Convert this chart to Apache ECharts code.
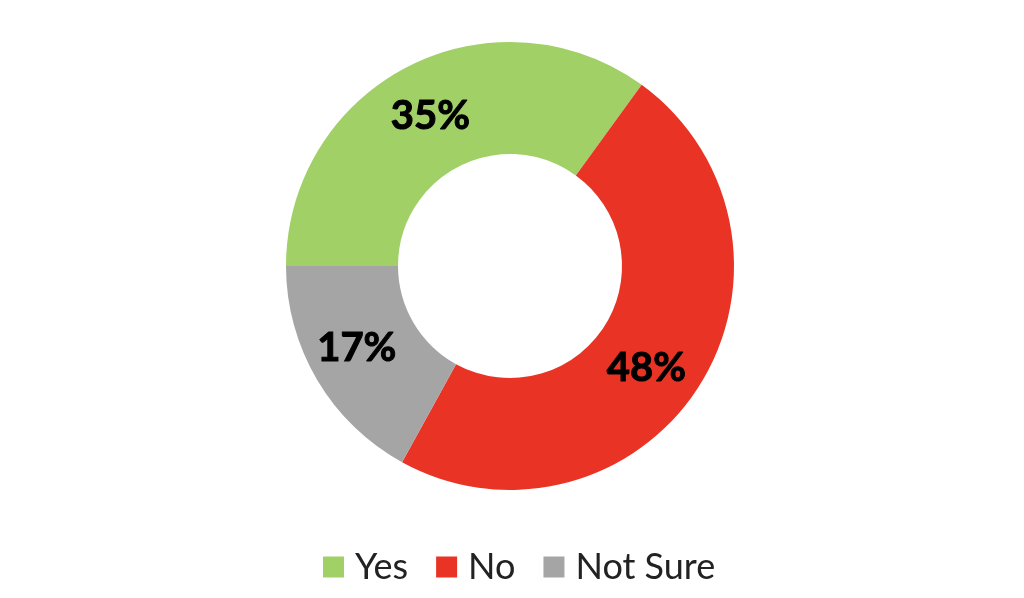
<!DOCTYPE html>
<html>
<head>
<meta charset="utf-8">
<script src="https://cdn.jsdelivr.net/npm/echarts@6/dist/echarts.min.js"></script>
<style>
html,body{margin:0;padding:0;background:#fff;}
#chart{width:1024px;height:598px;}
</style>
</head>
<body>
<div id="chart"></div>
<script>
const categories = ['Yes', 'No', 'Not Sure'];
const values = [35, 48, 17];
const colors = ['#A0D066', '#E93425', '#A5A5A5'];

const labelOffsets = [[-2, 2], [-8, 10], [-6, -5]];

const chart = echarts.init(document.getElementById('chart'), null, {renderer: 'canvas'});
chart.setOption({
  animation: false,
  backgroundColor: '#ffffff',
  legend: {
    data: categories,
    top: 544,
    left: 318,
    itemWidth: 21,
    itemHeight: 21,
    itemGap: 28,
    icon: 'rect',
    textStyle: {
      fontFamily: 'Lato',
      fontSize: 36,
      color: '#222222',
      padding: [0, 0, 0, 6]
    }
  },
  series: [{
    type: 'pie',
    center: [510, 266],
    radius: [112, 224],
    startAngle: 180,
    clockwise: true,
    avoidLabelOverlap: false,
    label: {
      show: true,
      position: 'inside',
      formatter: '{c}%',
      fontFamily: 'Lato',
      fontWeight: 'bold',
      fontSize: 40,
      color: '#000000',
      textBorderColor: '#000000',
      textBorderWidth: 1
    },
    labelLine: {show: false},
    itemStyle: {borderWidth: 0},
    emphasis: {disabled: true},
    data: categories.map((c, i) => ({
      name: c,
      value: values[i],
      itemStyle: {color: colors[i]},
      label: {offset: labelOffsets[i]}
    }))
  }]
});
</script>
</body>
</html>
